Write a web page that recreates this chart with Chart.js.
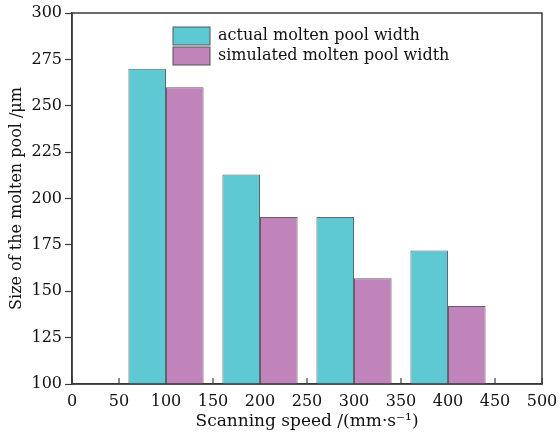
<!DOCTYPE html>
<html>
<head>
<meta charset="utf-8">
<script src="https://cdn.jsdelivr.net/npm/chart.js@4"></script>
<style>
  html, body { margin: 0; padding: 0; background: #fff; }
  #wrap { width: 560px; height: 432px; }
</style>
</head>
<body>
<div id="wrap"><canvas id="poolChart" width="560" height="432"></canvas></div>
<script>
// scanning speed groups (mm/s) and pool widths (um)
const speeds = [100, 200, 300, 400];
const actualWidth = [270, 213, 190, 172];
const simulatedWidth = [260, 190, 157, 142];
const seriesNames = ['actual molten pool width', 'simulated molten pool width'];

const FONT = '"DejaVu Serif", "Liberation Serif", serif';
const AXIS = '#3a3a3a';
const INK = '#111';

// x ticks point into the plot, drawn under the bars
const innerTicks = {
  id: 'innerTicks',
  beforeDatasetsDraw(chart) {
    const { ctx, chartArea, scales } = chart;
    ctx.save();
    ctx.strokeStyle = AXIS;
    ctx.lineWidth = 1.2;
    scales.x.ticks.forEach(t => {
      const px = scales.x.getPixelForValue(t.value);
      ctx.beginPath();
      ctx.moveTo(px, chartArea.bottom);
      ctx.lineTo(px, chartArea.bottom - 6);
      ctx.stroke();
    });
    ctx.restore();
  }
};

// box around plot + legend inside top
const frameLegend = {
  id: 'frameLegend',
  afterDraw(chart) {
    const { ctx, chartArea } = chart;
    ctx.save();
    ctx.strokeStyle = AXIS;
    ctx.lineWidth = 1.5;
    ctx.strokeRect(chartArea.left, chartArea.top, chartArea.right - chartArea.left, chartArea.bottom - chartArea.top);

    ctx.font = '16px ' + FONT;
    ctx.textBaseline = 'middle';
    chart.data.datasets.forEach((ds, i) => {
      const y = 27 + i * 20;
      ctx.fillStyle = ds.backgroundColor;
      ctx.fillRect(173, y, 37, 18);
      ctx.strokeStyle = '#555';
      ctx.lineWidth = 1;
      ctx.strokeRect(173, y, 37, 18);
      ctx.fillStyle = INK;
      ctx.fillText(ds.label, 218, y + 9);
    });
    ctx.restore();
  }
};

new Chart(document.getElementById('poolChart'), {
  type: 'bar',
  data: {
    labels: speeds,
    datasets: [
      {
        label: seriesNames[0],
        data: speeds.map((s, i) => ({ x: s, y: actualWidth[i] })),
        backgroundColor: '#5ec8d3',
        borderColor: '#5a6a70',
        borderWidth: 1,
        borderSkipped: false,
        categoryPercentage: 1.6,
        barPercentage: 1
      },
      {
        label: seriesNames[1],
        data: speeds.map((s, i) => ({ x: s, y: simulatedWidth[i] })),
        backgroundColor: '#c084ba',
        borderColor: '#6a5a68',
        borderWidth: 1,
        borderSkipped: false,
        categoryPercentage: 1.6,
        barPercentage: 1
      }
    ]
  },
  options: {
    responsive: false,
    animation: false,
    layout: { padding: { top: 13, right: 18, left: 0, bottom: 0 } },
    plugins: { legend: { display: false }, tooltip: { enabled: false } },
    scales: {
      x: {
        type: 'linear',
        offset: false,
        min: 0,
        max: 500,
        ticks: { stepSize: 50, color: INK, font: { family: FONT, size: 16 }, padding: 0, maxRotation: 0 },
        grid: { display: false, drawOnChartArea: false },
        border: { color: AXIS, width: 1.5 },
        title: { display: true, text: 'Scanning speed /(mm·s⁻¹)', color: INK, font: { family: FONT, size: 17 }, padding: { top: -2, bottom: 0 } },
        afterFit(scale) { scale.height = 48; }
      },
      y: {
        min: 100,
        max: 300,
        ticks: { stepSize: 25, color: INK, font: { family: FONT, size: 16 }, padding: 3 },
        grid: { drawOnChartArea: false, tickLength: 7, color: AXIS, tickWidth: 1.2 },
        border: { color: AXIS, width: 1.5 },
        title: { display: true, text: 'Size of the molten pool /μm', color: INK, font: { family: FONT, size: 16 }, padding: { top: 7, bottom: 0 } },
        afterFit(scale) { scale.width = 72; }
      }
    }
  },
  plugins: [innerTicks, frameLegend]
});
</script>
</body>
</html>
